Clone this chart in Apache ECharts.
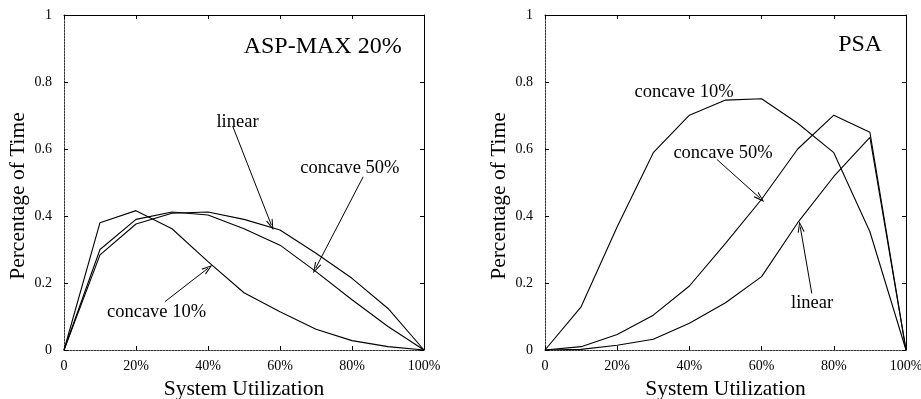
<!DOCTYPE html>
<html>
<head>
<meta charset="utf-8">
<script src="https://cdn.jsdelivr.net/npm/echarts@6/dist/echarts.min.js"></script>
<style>html,body{margin:0;padding:0;background:#fff;}#c{width:921px;height:399px;}</style>
</head>
<body>
<div id="c"></div>
<script>
// ---- data ----
const utilization = [0, 10, 20, 30, 40, 50, 60, 70, 80, 90, 100];
const xTicks = [0, 20, 40, 60, 80, 100];
const yTicks = [0, 0.2, 0.4, 0.6, 0.8, 1];

const aspLinear    = [0, 0.284, 0.376, 0.408, 0.412, 0.390, 0.358, 0.289, 0.214, 0.124, 0];
const aspConcave50 = [0, 0.300, 0.390, 0.412, 0.403, 0.362, 0.313, 0.234, 0.150, 0.070, 0];
const aspConcave10 = [0, 0.380, 0.416, 0.362, 0.264, 0.171, 0.114, 0.062, 0.028, 0.010, 0];

const psaLinear    = [0, 0.002, 0.014, 0.032, 0.080, 0.141, 0.219, 0.380, 0.518, 0.635, 0];
const psaConcave50 = [0, 0.010, 0.046, 0.104, 0.191, 0.318, 0.450, 0.600, 0.701, 0.650, 0];
const psaConcave10 = [0, 0.129, 0.368, 0.589, 0.701, 0.746, 0.750, 0.677, 0.589, 0.353, 0];

const panelTitles = ['ASP-MAX 20%', 'PSA'];
const xAxisName = 'System Utilization';
const yAxisName = 'Percentage of Time';

// annotation text: [text, x, y] in data coordinates
const aspLabels = [['linear', 48.2, 0.681], ['concave 50%', 79.4, 0.543], ['concave 10%', 25.7, 0.113]];
const psaLabels = [['concave 10%', 38.5, 0.770], ['concave 50%', 49.3, 0.588], ['linear', 74.0, 0.140]];
// arrows: [x1, y1, x2, y2] in data coordinates
const aspArrows = [[46.9, 0.667, 57.6, 0.373], [83.1, 0.517, 69.9, 0.244], [28.0, 0.144, 40.0, 0.244]];
const psaArrows = [[47.6, 0.569, 59.6, 0.453], [73.9, 0.169, 70.7, 0.368]];
const titlePos = [[93.8, 0.904], [93.4, 0.910]];

// ---- chart ----
const FONT = 'Liberation Serif';
const OPEN_ARROW = 'path://M50,0 L100,100 L84,100 L50,28 L16,100 L0,100 Z';
const chart = echarts.init(document.getElementById('c'), null, {renderer: 'canvas'});
const grids = [
  {left: 64, top: 15, width: 360, height: 335, outerBoundsMode: 'none', containLabel: false},
  {left: 545, top: 15, width: 361, height: 335, outerBoundsMode: 'none', containLabel: false}
];

const xAxes = [], yAxes = [];
grids.forEach((g, i) => {
  xAxes.push({
    type: 'value', gridIndex: i, min: 0, max: 100, interval: 20, position: 'bottom',
    name: xAxisName, nameLocation: 'middle', nameGap: 26,
    nameTextStyle: {fontFamily: FONT, fontSize: 21.5, color: '#000'},
    axisLine: {show: true, onZero: false, lineStyle: {color: '#333', width: 1, type: [2, 1]}},
    axisTick: {show: true, inside: true, length: 4, lineStyle: {color: '#000'}},
    axisLabel: {show: true, margin: 9, fontFamily: FONT, fontSize: 14, color: '#000',
      showMinLabel: true, showMaxLabel: true, hideOverlap: false,
      formatter: v => v === 0 ? '0' : v + '%'},
    splitLine: {show: false}
  });
  xAxes.push({
    type: 'value', gridIndex: i, min: 0, max: 100, interval: 20, position: 'top',
    axisLine: {show: true, onZero: false, lineStyle: {color: '#000', width: 1}},
    axisTick: {show: true, inside: true, length: 4, lineStyle: {color: '#000'}},
    axisLabel: {show: false}, splitLine: {show: false}
  });
  yAxes.push({
    type: 'value', gridIndex: i, min: 0, max: 1, interval: 0.2, position: 'left',
    axisLine: {show: true, onZero: false, lineStyle: {color: '#333', width: 1, type: [2, 1]}},
    axisTick: {show: true, inside: true, length: 4, lineStyle: {color: '#000'}},
    axisLabel: {show: true, margin: 12, fontFamily: FONT, fontSize: 14, color: '#000',
      showMinLabel: true, showMaxLabel: true, hideOverlap: false,
      formatter: v => (v === 0 || v === 1) ? String(v) : v.toFixed(1)},
    splitLine: {show: false}
  });
  yAxes.push({
    type: 'value', gridIndex: i, min: 0, max: 1, interval: 0.2, position: 'right',
    axisLine: {show: true, onZero: false, lineStyle: {color: '#000', width: 1}},
    axisTick: {show: true, inside: true, length: 4, lineStyle: {color: '#000'}},
    axisLabel: {show: false}, splitLine: {show: false}
  });
});

function lineSeries(values, gi) {
  return {
    type: 'line', xAxisIndex: gi * 2, yAxisIndex: gi * 2,
    data: utilization.map((u, k) => [u, values[k]]),
    showSymbol: false, symbol: 'none', silent: true,
    lineStyle: {color: '#000', width: 1.1}, animation: false
  };
}

function annotSeries(labels, arrows, title, tpos, gi) {
  return {
    type: 'scatter', xAxisIndex: gi * 2, yAxisIndex: gi * 2, data: [], silent: true, animation: false,
    markPoint: {
      symbol: 'circle', symbolSize: 0, silent: true, animation: false,
      data: labels.map(l => ({coord: [l[1], l[2]], value: l[0],
        label: {show: true, position: 'inside', formatter: l[0], fontFamily: FONT, fontSize: 18.5, color: '#000'}}))
        .concat([{coord: tpos, value: title,
          label: {show: true, position: 'inside', align: 'right', formatter: title, fontFamily: FONT, fontSize: 24, color: '#000'}}])
    },
    markLine: {
      silent: true, animation: false, symbol: ['none', OPEN_ARROW], symbolSize: [7, 11],
      label: {show: false},
      lineStyle: {color: '#000', width: 1, type: 'solid'},
      itemStyle: {color: '#000'},
      data: arrows.map(a => [{coord: [a[0], a[1]]}, {coord: [a[2], a[3]]}])
    }
  };
}

chart.setOption({
  backgroundColor: '#fff',
  animation: false,
  grid: grids,
  xAxis: xAxes,
  yAxis: yAxes,
  graphic: [
    {type: 'text', x: 18, y: 196, rotation: Math.PI / 2,
      style: {text: yAxisName, font: '21.5px "Liberation Serif"', fill: '#000', align: 'center', verticalAlign: 'middle'}},
    {type: 'text', x: 499, y: 196, rotation: Math.PI / 2,
      style: {text: yAxisName, font: '21.5px "Liberation Serif"', fill: '#000', align: 'center', verticalAlign: 'middle'}}
  ],
  series: [
    lineSeries(aspLinear, 0), lineSeries(aspConcave50, 0), lineSeries(aspConcave10, 0),
    lineSeries(psaLinear, 1), lineSeries(psaConcave50, 1), lineSeries(psaConcave10, 1),
    annotSeries(aspLabels, aspArrows, panelTitles[0], titlePos[0], 0),
    annotSeries(psaLabels, psaArrows, panelTitles[1], titlePos[1], 1)
  ]
});
</script>
</body>
</html>
